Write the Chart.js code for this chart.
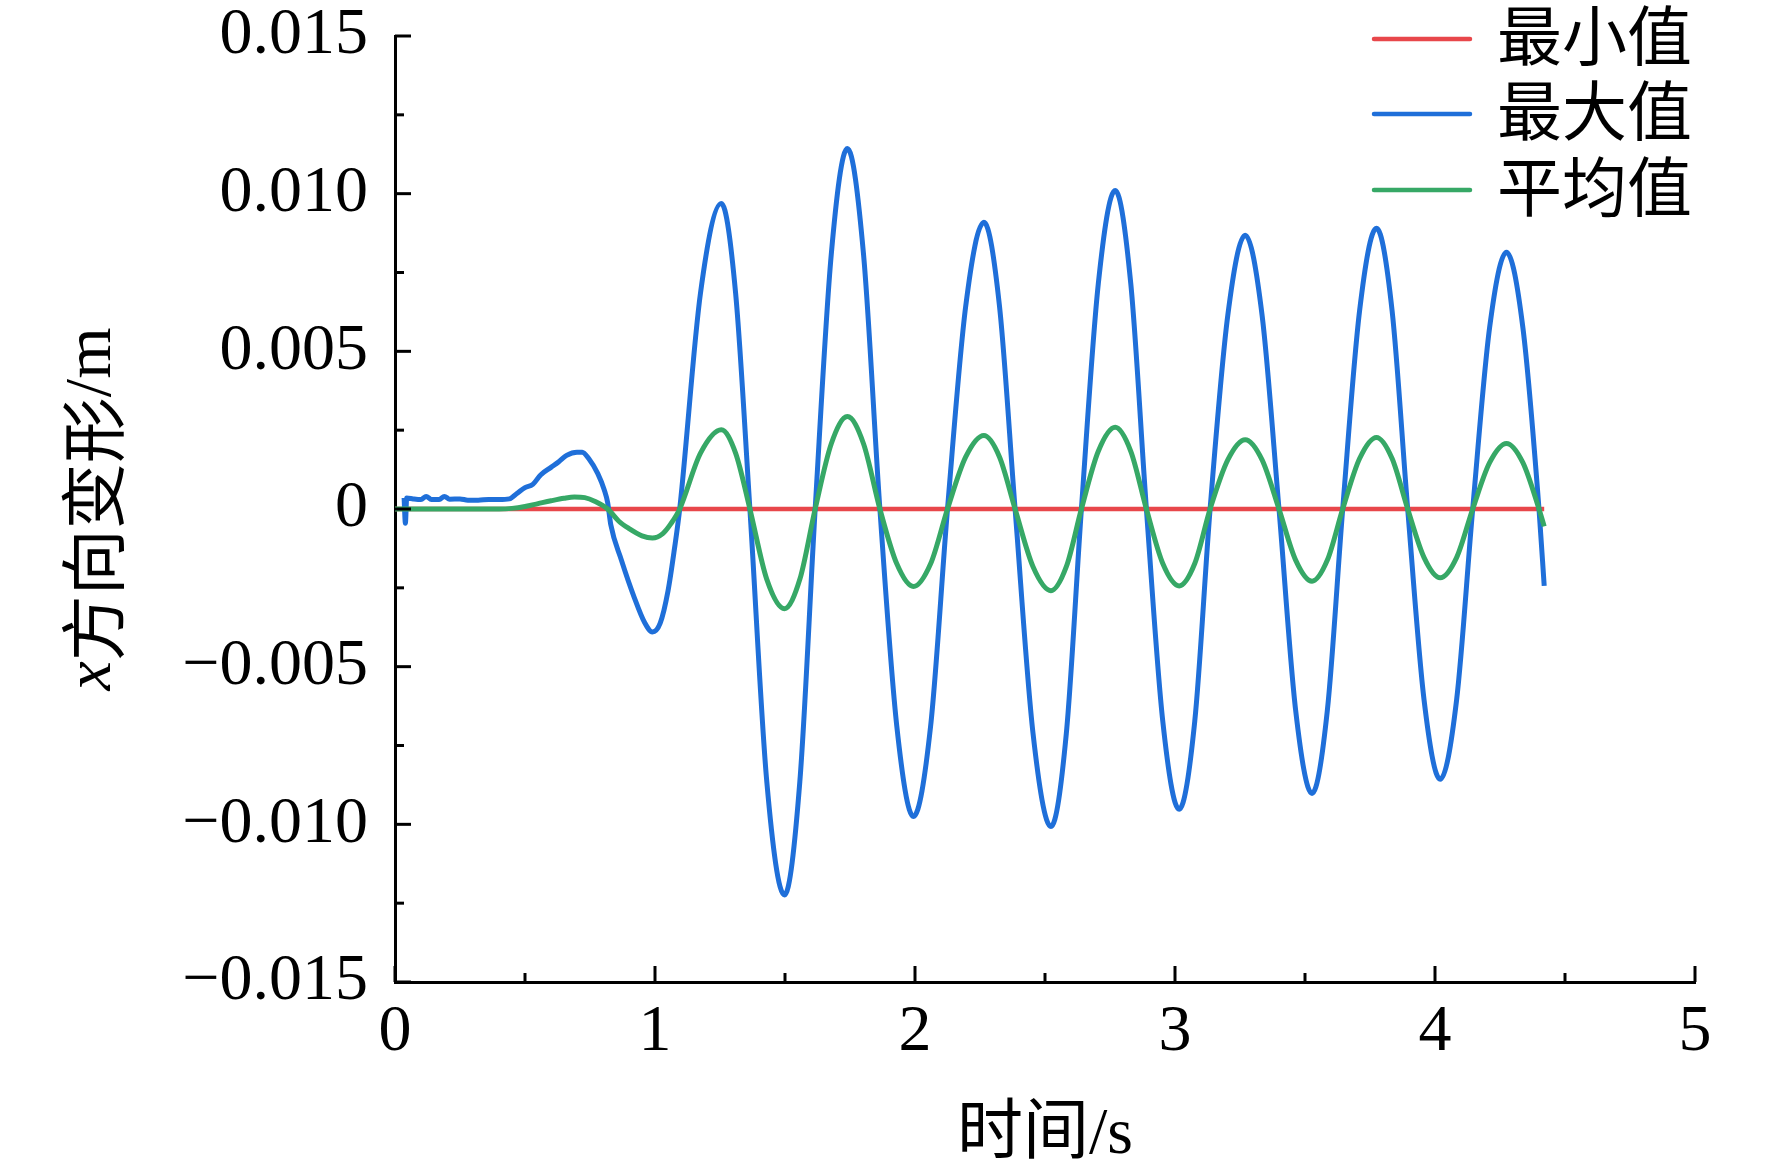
<!DOCTYPE html>
<html>
<head>
<meta charset="utf-8">
<script src="https://cdn.jsdelivr.net/npm/chart.js@4.4.1/dist/chart.umd.min.js"></script>
<style>
html,body{margin:0;padding:0;background:#ffffff;}
#wrap{width:1772px;height:1175px;position:relative;}
</style>
</head>
<body>
<div id="wrap"><canvas id="c" width="1772" height="1175"></canvas></div>
<script>
// ---------------- data ----------------
const seriesLabels = ['最小值', '最大值', '平均值'];
const seriesColors = ['#e8474b', '#1f6fd9', '#36a866'];

const xTickValues = [0, 1, 2, 3, 4, 5];
const yTickLabels = ['0.015', '0.010', '0.005', '0', '\u22120.005', '\u22120.010', '\u22120.015'];

// 最小值 (minimum)
const minTime  = [0, 4.42];
const minValue = [0, 0];

// 最大值 (maximum)
const maxTime = [0.035,0.04,0.045,0.07,0.10,0.12,0.14,0.17,0.19,0.21,0.25,0.28,0.32,0.36,0.40,0.44,
  0.47,0.50,0.53,0.56,0.60,0.63,0.66,0.70,0.72,0.745,0.78,0.805,0.818,0.83,0.87,0.92,0.96,0.99,1.02,1.05,1.075,1.095,
  1.175,1.255,1.31,1.365,1.43,1.498,1.557,1.616,1.678,1.74,1.802,1.865,1.93,1.994,2.06,2.125,
  2.195,2.265,2.325,2.385,2.454,2.523,2.582,2.64,2.705,2.77,2.83,2.89,2.953,3.016,3.076,3.135,
  3.203,3.27,3.335,3.40,3.464,3.527,3.586,3.645,3.71,3.775,3.835,3.895,3.958,4.02,4.083,4.145,
  4.21,4.275,4.338,4.40,4.42];
const maxValue = [0.00035,-0.00045,0.00035,0.00032,0.00030,0.00040,0.00030,0.00030,0.00040,0.00031,0.00032,0.00028,0.00028,0.00030,0.00030,0.00032,
  0.00050,0.00068,0.00078,0.00108,0.00132,0.00150,0.00170,0.00180,0.00180,0.00160,0.00112,0.00060,0.00020,-0.00050,-0.00160,-0.00280,-0.00360,-0.00390,-0.00362,-0.00260,-0.00125,0,
  0.00685,0.00969,0.00685,0,-0.00865,-0.01224,-0.00865,0,0.00808,0.01143,0.00808,0,-0.00689,-0.00975,-0.00689,0,
  0.00643,0.00909,0.00643,0,-0.00712,-0.01007,-0.00712,0,0.00714,0.01010,0.00714,0,-0.00673,-0.00952,-0.00673,0,
  0.00614,0.00868,0.00614,0,-0.00638,-0.00902,-0.00638,0,0.00629,0.00890,0.00629,0,-0.00606,-0.00857,-0.00606,0,
  0.00575,0.00814,0.00575,0,-0.00244];

// 平均值 (mean)
const meanTime = [0,0.40,0.45,0.50,0.55,0.60,0.65,0.69,0.73,0.77,0.818,0.86,0.90,0.95,0.99,1.03,1.06,1.095,
  1.175,1.255,1.31,1.365,1.43,1.498,1.557,1.616,1.678,1.74,1.802,1.865,1.93,1.994,2.06,2.125,
  2.195,2.265,2.325,2.385,2.454,2.523,2.582,2.64,2.705,2.77,2.83,2.89,2.953,3.016,3.076,3.135,
  3.203,3.27,3.335,3.40,3.464,3.527,3.586,3.645,3.71,3.775,3.835,3.895,3.958,4.02,4.083,4.145,
  4.21,4.275,4.338,4.40,4.42];
const meanValue = [0,0,0.00002,0.00008,0.00017,0.00026,0.00034,0.00038,0.00036,0.00024,0,-0.00038,-0.00062,-0.00085,-0.00092,-0.00078,-0.00048,0,
  0.00177,0.00251,0.00177,0,-0.00223,-0.00316,-0.00223,0,0.00207,0.00293,0.00207,0,-0.00174,-0.00246,-0.00174,0,
  0.00165,0.00233,0.00165,0,-0.00183,-0.00259,-0.00183,0,0.00183,0.00259,0.00183,0,-0.00173,-0.00244,-0.00173,0,
  0.00156,0.00220,0.00156,0,-0.00162,-0.00229,-0.00162,0,0.00160,0.00227,0.00160,0,-0.00154,-0.00218,-0.00154,0,
  0.00147,0.00208,0.00147,0,-0.00055];

// ---------------- styling ----------------
const FONT = '"Liberation Serif", "Times New Roman", "Noto Sans CJK SC", serif';
const CJK = '"Noto Sans CJK SC", "Liberation Serif", serif';

function toPoints(xs, ys) { return xs.map((x, i) => ({x: x, y: ys[i]})); }

const inwardTicks = {
  id: 'inwardTicks',
  afterDraw(chart) {
    const ctx = chart.ctx, a = chart.chartArea;
    const xs = chart.scales.x, ys = chart.scales.y;
    const maj = 16, mnr = 9;
    ctx.save();
    ctx.strokeStyle = '#000';
    ctx.lineWidth = 3;
    const seg = (x1, y1, x2, y2) => { ctx.beginPath(); ctx.moveTo(x1, y1); ctx.lineTo(x2, y2); ctx.stroke(); };
    ys.ticks.forEach((t, i) => {
      const p = ys.getPixelForValue(t.value);
      seg(a.left, p, a.left + maj, p);
      if (i < ys.ticks.length - 1) {
        const m = ys.getPixelForValue((t.value + ys.ticks[i + 1].value) / 2);
        seg(a.left, m, a.left + mnr, m);
      }
    });
    xs.ticks.forEach((t, i) => {
      const p = xs.getPixelForValue(t.value);
      seg(p, a.bottom, p, a.bottom - maj);
      if (i < xs.ticks.length - 1) {
        const m = xs.getPixelForValue((t.value + xs.ticks[i + 1].value) / 2);
        seg(m, a.bottom, m, a.bottom - mnr);
      }
    });
    ctx.restore();
  }
};

const yTitle = {
  id: 'yTitle',
  afterDraw(chart) {
    const ctx = chart.ctx, a = chart.chartArea;
    const parts = [
      {t: 'x', f: 'italic 66px ' + FONT},
      {t: '方向变形', f: '66px ' + CJK},
      {t: '/m', f: '66px ' + FONT}
    ];
    ctx.save();
    let total = 0;
    parts.forEach(p => { ctx.font = p.f; p.w = ctx.measureText(p.t).width; total += p.w; });
    ctx.translate(93, (a.top + a.bottom) / 2);
    ctx.rotate(-Math.PI / 2);
    ctx.fillStyle = '#000';
    ctx.textBaseline = 'middle';
    ctx.textAlign = 'left';
    let x = -total / 2;
    parts.forEach(p => { ctx.font = p.f; ctx.fillText(p.t, x, 0); x += p.w; });
    ctx.restore();
  }
};

const customLegend = {
  id: 'customLegend',
  afterDraw(chart) {
    const ctx = chart.ctx;
    const rows = [39, 114, 190];
    ctx.save();
    chart.data.datasets.forEach((ds, i) => {
      const y = rows[i];
      ctx.strokeStyle = ds.borderColor;
      ctx.lineWidth = 4.5;
      ctx.lineCap = 'round';
      ctx.beginPath(); ctx.moveTo(1374, y); ctx.lineTo(1470, y); ctx.stroke();
      ctx.fillStyle = '#000';
      ctx.font = '65px ' + CJK;
      ctx.textBaseline = 'middle';
      ctx.textAlign = 'left';
      ctx.fillText(ds.label, 1497, y - 4);
    });
    ctx.restore();
  }
};

new Chart(document.getElementById('c'), {
  type: 'line',
  data: {
    datasets: [
      {label: seriesLabels[0], data: toPoints(minTime, minValue), borderColor: seriesColors[0], borderWidth: 4.5, pointRadius: 0, fill: false, order: 2},
      {label: seriesLabels[1], data: toPoints(maxTime, maxValue), borderColor: seriesColors[1], borderWidth: 5, pointRadius: 0, fill: false, cubicInterpolationMode: 'monotone', order: 1},
      {label: seriesLabels[2], data: toPoints(meanTime, meanValue), borderColor: seriesColors[2], borderWidth: 5, pointRadius: 0, fill: false, cubicInterpolationMode: 'monotone', order: 0}
    ]
  },
  options: {
    responsive: false,
    animation: false,
    devicePixelRatio: 1,
    layout: {padding: {left: 0, right: 77, top: 36, bottom: 0}},
    plugins: {legend: {display: false}, tooltip: {enabled: false}},
    scales: {
      x: {
        type: 'linear', min: 0, max: 5,
        border: {display: true, color: '#000', width: 3},
        grid: {display: false, drawTicks: false},
        ticks: {stepSize: 1, padding: 11, color: '#000', font: {family: FONT, size: 66},
          callback: (v) => { const i = xTickValues.indexOf(Math.round(v * 1000) / 1000); return i >= 0 ? String(xTickValues[i]) : ''; }},
        title: {display: true, text: '时间/s', color: '#000', font: {family: FONT, size: 66}, padding: 0},
        afterFit(s) { s.height = 193; s.paddingLeft = 0; s.paddingRight = 0; }
      },
      y: {
        type: 'linear', min: -0.015, max: 0.015,
        border: {display: true, color: '#000', width: 3},
        grid: {display: false, drawTicks: false},
        ticks: {stepSize: 0.005, padding: 27, color: '#000', font: {family: FONT, size: 66},
          callback: (v) => { const k = Math.round(v / 0.005); return yTickLabels[3 - k]; }},
        afterFit(s) { s.width = 395; s.paddingTop = 0; s.paddingBottom = 0; }
      }
    }
  },
  plugins: [inwardTicks, yTitle, customLegend]
});
</script>
</body>
</html>
